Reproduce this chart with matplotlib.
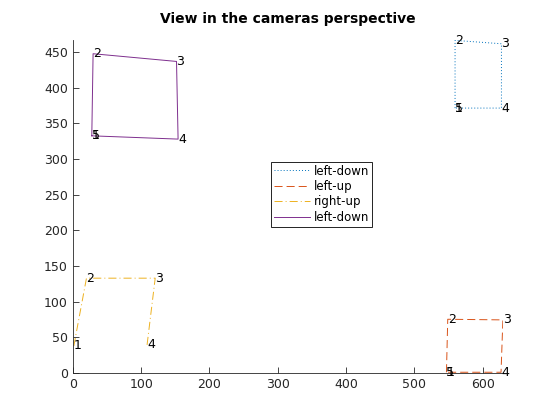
import numpy as np
import matplotlib
matplotlib.use("Agg")
import matplotlib.pyplot as plt

# camera corner points in image pixels (closed where the 5th point repeats the 1st)
x_blue = [559.5, 559.5, 627.4, 627.4, 559.5]
y_blue = [371.4, 466.3, 461.6, 371.4, 371.4]
x_orange = [546.9, 548.8, 629.5, 626.8, 546.9]
y_orange = [1.0, 75.3, 74.4, 1.0, 1.0]
x_yellow = [1.5, 20.0, 120.6, 108.7]
y_yellow = [37.9, 132.9, 132.9, 39.3]
x_purple = [27.8, 29.7, 151.8, 154.1, 27.8]
y_purple = [332.5, 447.6, 436.8, 327.9, 332.5]

labels = ["left-down", "left-up", "right-up", "left-down"]
colors = ["#0072BD", "#D95319", "#EDB120", "#7E2F8E"]
# matlab-like dash patterns (points)
styles = [(0, (0.7, 1.5)), (0, (5.8, 2.9)), (0, (5.8, 2.2, 0.7, 2.2)), "-"]

xs = [x_blue, x_orange, x_yellow, x_purple]
ys = [y_blue, y_orange, y_yellow, y_purple]

plt.rcParams['font.family'] = ['DejaVu Sans']
plt.rcParams['lines.scale_dashes'] = False
fig = plt.figure(figsize=(5.6, 4.2), dpi=100)
ax = fig.add_axes([0.130, 0.112, 0.768, 0.793])

for x, y, lab, c, ls in zip(xs, ys, labels, colors, styles):
    ax.plot(x, y, color=c, linestyle=ls, linewidth=0.7, label=lab)
    for i in range(len(x)):
        ax.text(x[i], y[i], str(i + 1), fontsize=9, ha='left', va='center', clip_on=False)

ax.set_xlim(0, 629.5)
ax.set_ylim(0, 467)
ax.set_xticks(np.arange(0, 700, 100))
ax.set_yticks(np.arange(0, 500, 50))
ax.spines['top'].set_visible(False)
ax.spines['right'].set_visible(False)
for s in ['left', 'bottom']:
    ax.spines[s].set_color('#262626')
    ax.spines[s].set_linewidth(0.6)
ax.tick_params(direction='in', length=4, width=0.6, colors='#262626', labelsize=9)
ax.set_title("View in the cameras perspective", fontsize=10, fontweight='bold', pad=12)

leg = ax.legend(loc='upper left', bbox_to_anchor=(0.462, 0.6345), fontsize=8.5, frameon=True,
                fancybox=False, edgecolor='black', framealpha=1, borderpad=0.25,
                labelspacing=0.2, handlelength=3.0, handletextpad=0.3, borderaxespad=0)
leg.get_frame().set_linewidth(0.6)

fig.savefig("out.png", dpi=100)
